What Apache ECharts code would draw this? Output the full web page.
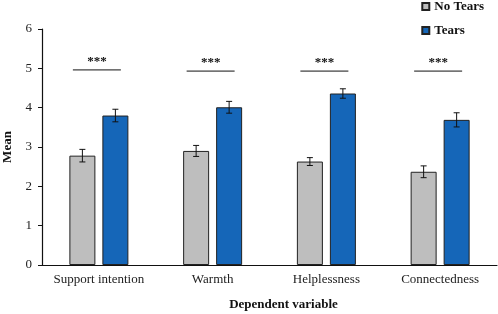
<!DOCTYPE html>
<html>
<head>
<meta charset="utf-8">
<script src="https://cdn.jsdelivr.net/npm/echarts@6/dist/echarts.min.js"></script>
<style>
  html, body { margin: 0; padding: 0; background: #fff; }
  #chart { width: 498px; height: 314px; }
</style>
</head>
<body>
<div id="chart"></div>
<script>
// 数据
const categories = ['Support intention', 'Warmth', 'Helplessness', 'Connectedness']
const noTears = [2.78, 2.90, 2.63, 2.37]
const noTearsErr = [0.16, 0.14, 0.10, 0.15]
const tears = [3.80, 4.01, 4.36, 3.69]
const tearsErr = [0.16, 0.15, 0.12, 0.18]
const sigLevel = [4.96, 4.93, 4.93, 4.93]
const sigLabels = ['***', '***', '***', '***']
const yTicks = [0, 1, 2, 3, 4, 5, 6]

const FONT = 'Liberation Serif'
const BAR_W = 26
const BAR_GAP = 7
const OFFSET = (BAR_W + BAR_GAP) / 2

const chart = echarts.init(document.getElementById('chart'))

// 误差线
const errorSeries = (vals, errs, dx) => ({
  type: 'custom',
  z: 5,
  silent: true,
  data: vals.map((v, i) => [i, v - errs[i], v + errs[i]]),
  renderItem: (params, api) => {
    const lo = api.coord([api.value(0), api.value(1)])
    const hi = api.coord([api.value(0), api.value(2)])
    const x = lo[0] + dx
    const cap = 3
    const style = { stroke: '#111', lineWidth: 1 }
    return {
      type: 'group',
      children: [
        { type: 'line', shape: { x1: x, y1: lo[1], x2: x, y2: hi[1] }, style },
        { type: 'line', shape: { x1: x - cap, y1: lo[1], x2: x + cap, y2: lo[1] }, style },
        { type: 'line', shape: { x1: x - cap, y1: hi[1], x2: x + cap, y2: hi[1] }, style }
      ]
    }
  }
})

const option = {
  animation: false,
  textStyle: { fontFamily: FONT },
  grid: { left: 42, right: 1, top: 29, bottom: 49, outerBoundsMode: 'none', containLabel: false },
  legend: {
    orient: 'vertical',
    right: 9,
    top: -5,
    itemWidth: 7,
    itemHeight: 7,
    itemGap: 11,
    icon: 'rect',
    textStyle: { fontFamily: FONT, fontSize: 13, fontWeight: 'bold', color: '#111' },
    data: ['No Tears', 'Tears']
  },
  xAxis: {
    type: 'category',
    data: categories,
    name: 'Dependent variable',
    nameLocation: 'middle',
    nameGap: 33,
    nameTextStyle: { fontFamily: FONT, fontSize: 13, fontWeight: 'bold', color: '#111', padding: [0, 0, 0, 28] },
    axisLine: { lineStyle: { color: '#111', width: 1.2 } },
    axisTick: { show: false },
    axisLabel: { fontFamily: FONT, fontSize: 13, color: '#222', margin: 8, interval: 0 }
  },
  yAxis: {
    type: 'value',
    min: yTicks[0],
    max: yTicks[yTicks.length - 1],
    interval: 1,
    name: 'Mean',
    nameLocation: 'middle',
    nameGap: 26,
    nameTextStyle: { fontFamily: FONT, fontSize: 13, fontWeight: 'bold', color: '#111' },
    axisLine: { show: true, lineStyle: { color: '#111', width: 1.2 } },
    axisTick: { show: true, length: 4, lineStyle: { color: '#111' } },
    axisLabel: { fontFamily: FONT, fontSize: 13, color: '#222', margin: 10 },
    splitLine: { show: false }
  },
  series: [
    {
      name: 'No Tears',
      type: 'bar',
      data: noTears,
      barWidth: BAR_W,
      barGap: (BAR_GAP / BAR_W * 100) + '%',
      itemStyle: { color: '#bebebe', borderColor: '#222', borderWidth: 1 }
    },
    {
      name: 'Tears',
      type: 'bar',
      data: tears,
      barWidth: BAR_W,
      itemStyle: { color: '#1566b8', borderColor: '#222', borderWidth: 1 }
    },
    errorSeries(noTears, noTearsErr, -OFFSET),
    errorSeries(tears, tearsErr, OFFSET),
    {
      // 显著性标记
      type: 'custom',
      z: 6,
      silent: true,
      data: sigLevel.map((v, i) => [i, v]),
      renderItem: (params, api) => {
        const p = api.coord([api.value(0), api.value(1)])
        const x = p[0] - 2
        return {
          type: 'group',
          children: [
            { type: 'line', shape: { x1: x - 24, y1: p[1], x2: x + 24, y2: p[1] }, style: { stroke: '#111', lineWidth: 1 } },
            {
              type: 'text',
              style: {
                x: x, y: p[1] - 2,
                text: sigLabels[params.dataIndex],
                textAlign: 'center', textVerticalAlign: 'bottom',
                font: 'bold 13px "Liberation Serif"', fill: '#111'
              }
            }
          ]
        }
      }
    }
  ]
}

chart.setOption(option)
</script>
</body>
</html>
